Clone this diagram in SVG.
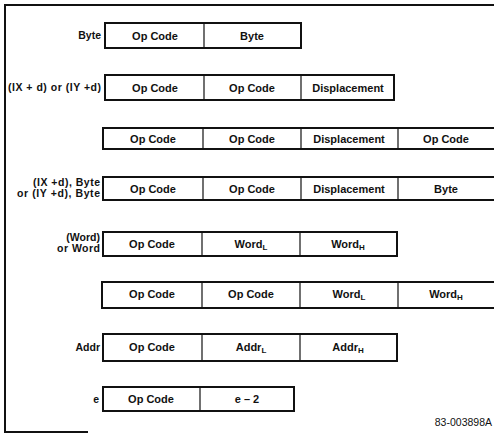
<svg xmlns="http://www.w3.org/2000/svg" width="494" height="434" viewBox="0 0 494 434">
<style>
.frame{fill:none;stroke:#111;stroke-width:2}
.box{fill:#fff;stroke:#111;stroke-width:2}
.div{stroke:#111;stroke-width:1.2}
text{font-family:"Liberation Sans",Arial,sans-serif;font-weight:bold;font-size:11px;fill:#111}
.c{text-anchor:middle}
.l{text-anchor:end;font-size:10.5px}
.sub{font-size:8px}
.id{font-weight:normal;font-size:10.5px;text-anchor:end}
</style>
<rect width="494" height="434" fill="#fff"/>
<g id="frame">
<polyline class="frame" points="494,5 5,5 5,432 88,432"/>
</g>
<g id="row1">
<text class="l" x="101" y="39">Byte</text>
<rect class="box" x="105" y="23" width="196" height="25"/>
<line class="div" x1="204" y1="23" x2="204" y2="48"/>
<text class="c" x="155" y="39.5">Op Code</text>
<text class="c" x="252" y="39.5">Byte</text>
</g>
<g id="row2">
<text class="l" x="101" y="91" textLength="93" lengthAdjust="spacing">(IX + d) or (IY +d)</text>
<rect class="box" x="105" y="75" width="289" height="25"/>
<line class="div" x1="204" y1="75" x2="204" y2="100"/>
<line class="div" x1="301" y1="75" x2="301" y2="100"/>
<text class="c" x="155" y="91.5">Op Code</text>
<text class="c" x="252" y="91.5">Op Code</text>
<text class="c" x="348" y="91.5">Displacement</text>
</g>
<g id="row3">
<rect class="box" x="103" y="128" width="400" height="21"/>
<line class="div" x1="203" y1="128" x2="203" y2="149"/>
<line class="div" x1="301" y1="128" x2="301" y2="149"/>
<line class="div" x1="398" y1="128" x2="398" y2="149"/>
<text class="c" x="153" y="142.5">Op Code</text>
<text class="c" x="252" y="142.5">Op Code</text>
<text class="c" x="349" y="142.5">Displacement</text>
<text class="c" x="446" y="142.5">Op Code</text>
</g>
<g id="row4">
<text class="l" x="100" y="186" textLength="67" lengthAdjust="spacing">(IX +d), Byte</text>
<text class="l" x="100" y="197" textLength="83" lengthAdjust="spacing">or (IY +d), Byte</text>
<rect class="box" x="103" y="177" width="400" height="23"/>
<line class="div" x1="203" y1="177" x2="203" y2="200"/>
<line class="div" x1="301" y1="177" x2="301" y2="200"/>
<line class="div" x1="398" y1="177" x2="398" y2="200"/>
<text class="c" x="153" y="192.5">Op Code</text>
<text class="c" x="252" y="192.5">Op Code</text>
<text class="c" x="349" y="192.5">Displacement</text>
<text class="c" x="446" y="192.5">Byte</text>
</g>
<g id="row5">
<text class="l" x="100" y="241">(Word)</text>
<text class="l" x="100" y="252" textLength="43" lengthAdjust="spacing">or Word</text>
<rect class="box" x="103" y="232" width="294" height="24"/>
<line class="div" x1="202" y1="232" x2="202" y2="256"/>
<line class="div" x1="300" y1="232" x2="300" y2="256"/>
<text class="c" x="152" y="248">Op Code</text>
<text class="c" x="251" y="248">Word<tspan class="sub" dy="2">L</tspan></text>
<text class="c" x="348" y="248">Word<tspan class="sub" dy="2">H</tspan></text>
</g>
<g id="row6">
<rect class="box" x="102" y="282" width="401" height="26"/>
<line class="div" x1="202" y1="282" x2="202" y2="308"/>
<line class="div" x1="300" y1="282" x2="300" y2="308"/>
<line class="div" x1="398" y1="282" x2="398" y2="308"/>
<text class="c" x="152" y="298">Op Code</text>
<text class="c" x="251" y="298">Op Code</text>
<text class="c" x="349" y="298">Word<tspan class="sub" dy="2">L</tspan></text>
<text class="c" x="446" y="298">Word<tspan class="sub" dy="2">H</tspan></text>
</g>
<g id="row7">
<text class="l" x="100" y="351">Addr</text>
<rect class="box" x="103" y="334" width="294" height="27"/>
<line class="div" x1="202" y1="334" x2="202" y2="361"/>
<line class="div" x1="300" y1="334" x2="300" y2="361"/>
<text class="c" x="152" y="351">Op Code</text>
<text class="c" x="251" y="351">Addr<tspan class="sub" dy="2">L</tspan></text>
<text class="c" x="348" y="351">Addr<tspan class="sub" dy="2">H</tspan></text>
</g>
<g id="row8">
<text class="l" x="99" y="403">e</text>
<rect class="box" x="103" y="387" width="191" height="24"/>
<line class="div" x1="200" y1="387" x2="200" y2="411"/>
<text class="c" x="151" y="403">Op Code</text>
<text class="c" x="247" y="403">e – 2</text>
</g>
<text class="id" x="492" y="426">83-003898A</text>
</svg>
